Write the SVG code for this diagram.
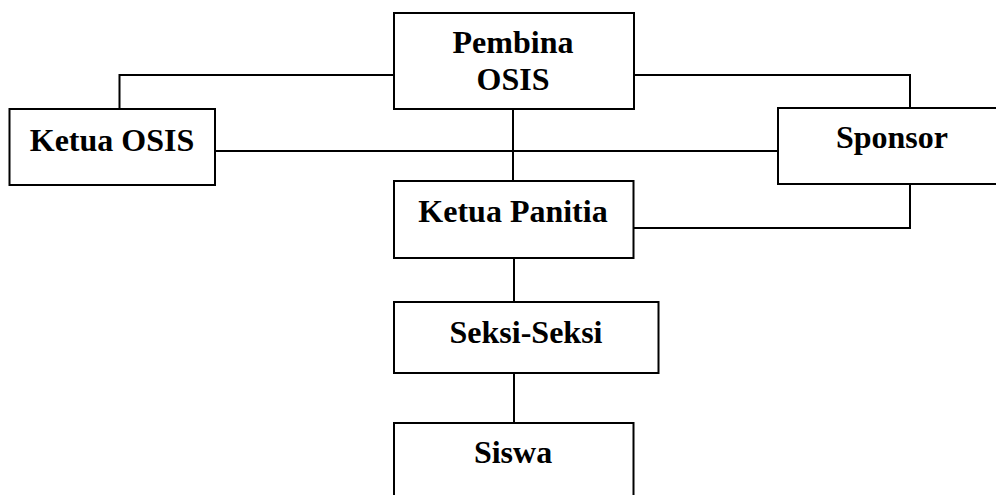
<svg xmlns="http://www.w3.org/2000/svg" width="996" height="495" viewBox="0 0 996 495">
<style>
.box{fill:#fff;stroke:#000;stroke-width:2}
.ln{fill:none;stroke:#000;stroke-width:2}
.t{font-family:"Liberation Serif","Times New Roman",serif;font-weight:bold;font-size:32px;fill:#000;text-anchor:middle}
</style>
<rect width="996" height="495" fill="#fff"/>
<g id="connectors">
<polyline class="ln" points="119.5,109 119.5,75 394,75"/>
<polyline class="ln" points="634,75 910,75 910,108"/>
<line class="ln" x1="215" y1="151" x2="778" y2="151"/>
<line class="ln" x1="513" y1="109" x2="513" y2="181"/>
<polyline class="ln" points="634,228 910,228 910,184"/>
<line class="ln" x1="514" y1="258" x2="514" y2="302"/>
<line class="ln" x1="514" y1="373" x2="514" y2="423"/>
</g>
<g id="pembina"><rect class="box" x="394" y="13" width="240" height="96"/><text class="t" x="513" y="53">Pembina</text><text class="t" x="513" y="90">OSIS</text></g>
<g id="ketua-osis"><rect class="box" x="9.5" y="109" width="205.5" height="76"/><text class="t" x="112" y="151">Ketua OSIS</text></g>
<g id="sponsor"><rect class="box" x="778" y="108" width="222" height="76"/><text class="t" x="892" y="148">Sponsor</text></g>
<g id="ketua-panitia"><rect class="box" x="394" y="181" width="239.5" height="77"/><text class="t" x="513" y="222">Ketua Panitia</text></g>
<g id="seksi"><rect class="box" x="394" y="302" width="264.5" height="71"/><text class="t" x="526" y="343">Seksi-Seksi</text></g>
<g id="siswa"><rect class="box" x="394" y="423" width="239.5" height="80"/><text class="t" x="513" y="463">Siswa</text></g>
</svg>
